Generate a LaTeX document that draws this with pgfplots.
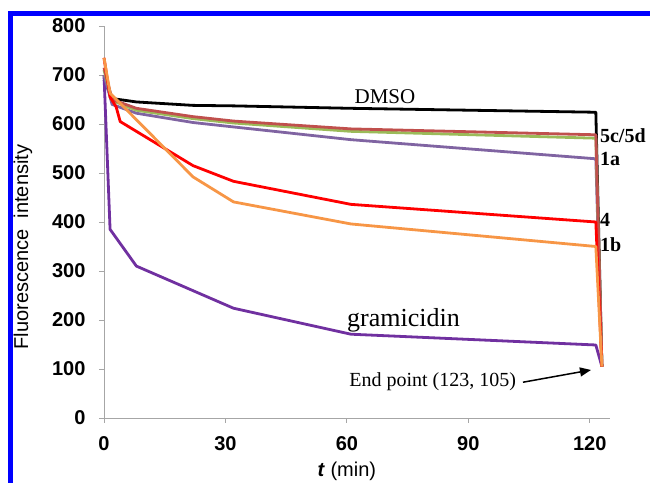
\documentclass[border=0pt]{standalone}
\usepackage{fontspec}
\setmainfont{Liberation Serif}
\newfontfamily\arial{Liberation Sans}
\usepackage{pgfplots}
\pgfplotsset{compat=1.18}
\usetikzlibrary{arrows.meta}
\definecolor{cA}{HTML}{8064A2}
\definecolor{cC}{HTML}{C0504D}
\definecolor{cD}{HTML}{9BBB59}
\definecolor{cB}{HTML}{F79646}
\definecolor{cG}{HTML}{7030A0}
\definecolor{axgray}{HTML}{A6A6A6}
\begin{document}
\begin{tikzpicture}
\useasboundingbox (0,0) rectangle (650bp,483bp);
% blue frame (top and left)
\draw[blue, line width=4.5bp] (10.5bp,0) -- (10.5bp,469.5bp) -- (650bp,469.5bp);
\begin{axis}[
  at={(104bp,65bp)}, anchor=south west,
  scale only axis, width=506bp, height=392bp,
  xmin=0, xmax=125, ymin=0, ymax=800,
  axis x line=bottom, axis y line=left,
  axis line style={axgray, line width=0.9bp, -},
  xtick={0,30,...,120}, ytick={0,100,...,800},
  tick align=outside, major tick length=5bp,
  tick style={axgray, line width=0.9bp},
  tick label style={font=\fontsize{20bp}{20bp}\selectfont\arial\bfseries},
  yticklabel style={xshift=-10bp},
  xticklabel style={yshift=-10bp},
  /pgf/number format/assume math mode=true,
  xlabel={\textbf{\textit{t}} (min)},
  xlabel style={at={(rel axis cs:0.48,0)}, anchor=center, yshift=-53bp,
    font=\fontsize{20bp}{20bp}\selectfont\arial},
  ylabel={Fluorescence\ \ intensity},
  ylabel style={at={(rel axis cs:-0.16,0.436)}, anchor=center,
    font=\fontsize{20bp}{20bp}\selectfont\arial},
  every axis plot/.append style={line width=2.8bp, mark=none, line join=round},
  clip=false,
]
% DMSO
\addplot[black] coordinates {
  (0,690) (2,652) (8,645) (22,638) (32,637) (61,632) (121.5,624) (123,105)};
% gramicidin
\addplot[cG] coordinates {
  (0,700) (1.5,385) (8,310) (32,224) (61,171) (121.5,149) (123,105)};
% 1a
\addplot[cA] coordinates {
  (0,700) (2,640) (8,622) (22,603) (32,594) (61,568) (121.5,529) (123,105)};
% 5d
\addplot[cD] coordinates {
  (0,710) (2,648) (8,628) (22,611) (32,602) (61,585) (121.5,571) (123,105)};
% 5c
\addplot[cC] coordinates {
  (0,715) (2,650) (8,632) (22,615) (32,606) (61,590) (121.5,578) (123,105)};
% 4
\addplot[red] coordinates {
  (0,735) (1.5,655) (3,635) (4,605) (8,585) (22,515) (32,483) (61,436) (121.5,400) (123,105)};
% 1b
\addplot[cB] coordinates {
  (0,735) (1.5,663) (22,492) (32,441) (61,396) (121.5,350) (123,105)};

\node[font=\fontsize{21bp}{21bp}\selectfont] at (axis cs:69.4,655) {DMSO};
\node[font=\fontsize{26bp}{26bp}\selectfont] at (axis cs:74,200) {gramicidin};
\node[font=\fontsize{20bp}{20bp}\selectfont] at (axis cs:81.2,75) {End point (123, 105)};
\draw[-{Triangle[length=11bp,width=9bp]}, line width=1.5bp]
  (axis cs:103.5,73) -- (axis cs:120.3,98);
\begin{scope}[every node/.style={anchor=west, inner sep=0pt,
    font=\fontsize{20bp}{20bp}\selectfont\bfseries}]
\node at (axis cs:122.5,577) {5c/5d};
\node at (axis cs:122.5,528) {1a};
\node at (axis cs:122.5,404) {4};
\node at (axis cs:122.5,353) {1b};
\end{scope}
\end{axis}
\end{tikzpicture}
\end{document}
